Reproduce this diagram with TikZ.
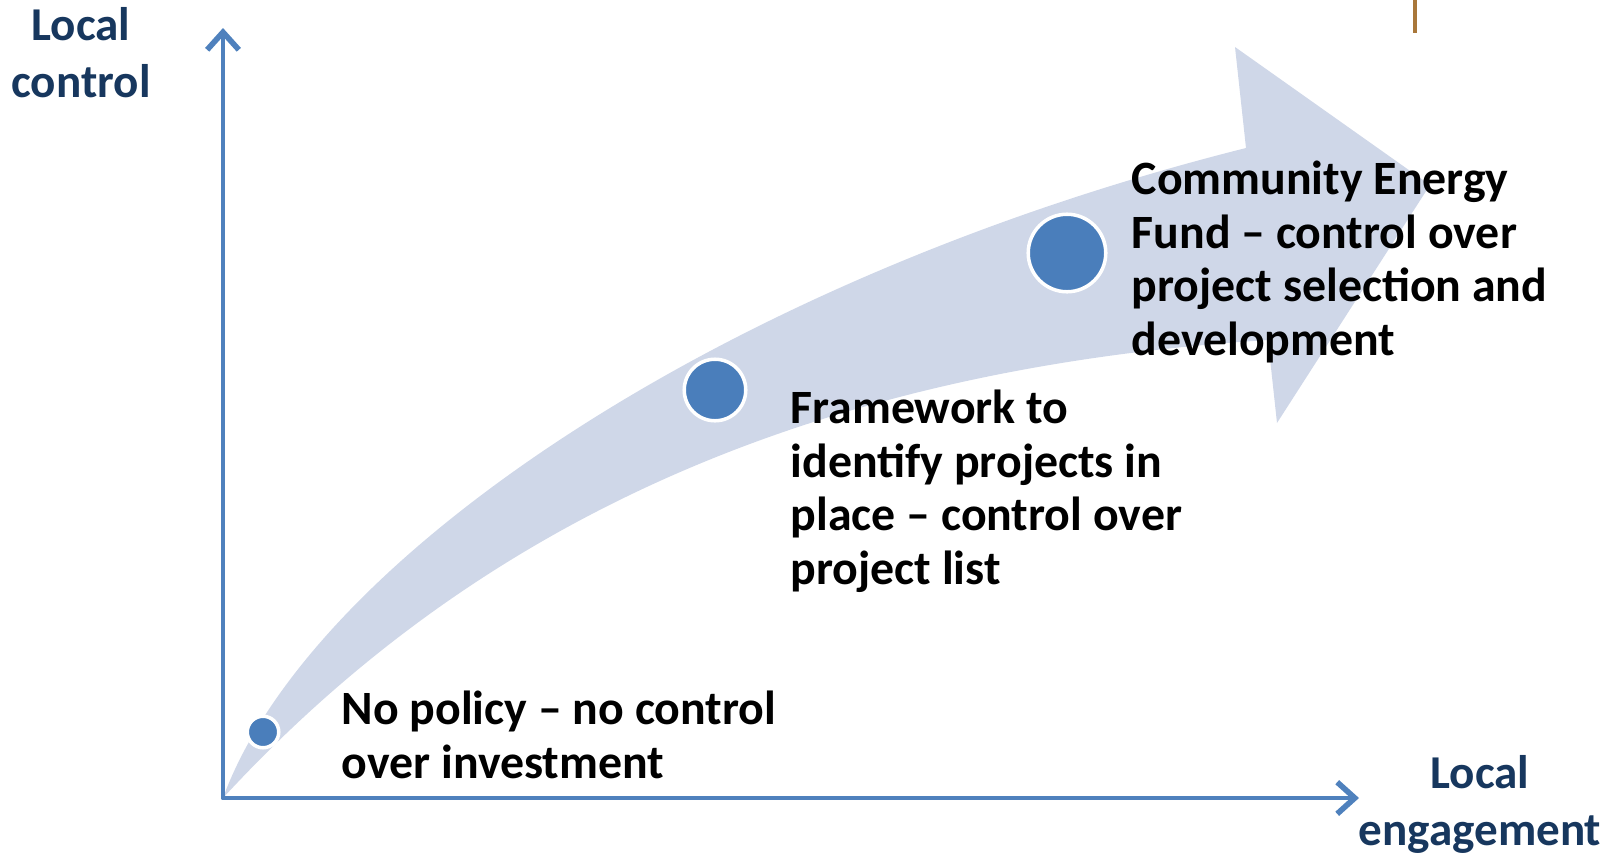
\documentclass[tikz,border=0pt]{standalone}
\usepackage{fontspec}
\setmainfont{Carlito}
\usetikzlibrary{arrows.meta}
\definecolor{axisblue}{HTML}{4F81BD}
\definecolor{dotblue}{HTML}{4A7EBB}
\definecolor{bandgrey}{HTML}{CFD7E8}
\definecolor{navy}{HTML}{17375E}
\definecolor{tickbrown}{HTML}{A9773A}

\begin{document}
\begin{tikzpicture}[x=0.01cm, y=0.01cm]
		\tikzstyle{every node}+=[inner sep=0pt]
		\tikzstyle{axis}=[axisblue, line width=1.4pt, line join=round, {Straight Barb[length=5pt,width=9pt,line width=1.6pt]}-{Straight Barb[length=5pt,width=9pt,line width=1.6pt]}]
		\tikzstyle{dot}=[circle, fill=dotblue, draw=white, line width=1pt]
		\tikzstyle{stage}=[anchor=north west, align=left, font=\fontsize{13.6}{15.3}\selectfont\bfseries]
		\tikzstyle{axislabel}=[anchor=north, align=center, text=navy, font=\fontsize{13.4}{16}\selectfont\bfseries]
		\useasboundingbox (0,0) rectangle (1617,-854);
		\coordinate (O) at (223,-798);
		\coordinate (ytop) at (223,-28);
		\coordinate (xend) at (1359,-798);
		\fill [bandgrey] (O) .. controls (310,-560) and (720,-280) .. (1246,-148) -- (1235,-47) -- (1430,-185) -- (1277,-423) -- (1268,-340) .. controls (800,-370) and (470,-530) .. (O);
		\draw [axis] (ytop) -- (O) -- (xend);
		\draw [tickbrown, line width=0.9pt] (1415,0) -- (1415,-33);
		\node [dot, minimum size=0.315cm] (dotA) at (263,-732) {};
		\node [dot, minimum size=0.615cm] (dotB) at (715,-390) {};
		\node [dot, minimum size=0.775cm] (dotC) at (1067,-253) {};
		\node [stage] (nopolicy) at (341,-690) {No policy -- no control\\over investment};
		\node [stage] (framework) at (790,-389) {Framework to\\identify projects in\\place -- control over\\project list};
		\node [stage] (fund) at (1131,-160) {Community Energy\\Fund -- control over\\project selection and\\development};
		\node [axislabel] (ylab) at (81,-7) {Local\\control};
		\node [axislabel] (xlab) at (1480,-755) {Local\\engagement};
	\end{tikzpicture}
\end{document}
